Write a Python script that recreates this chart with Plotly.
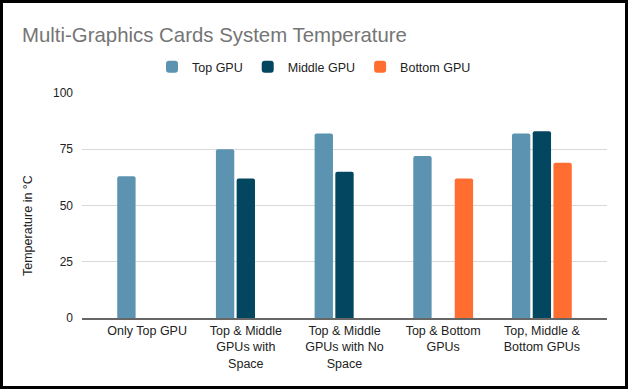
import plotly.graph_objects as go

categories = [
    "Only Top GPU",
    "Top & Middle<br>GPUs with<br>Space",
    "Top & Middle<br>GPUs with No<br>Space",
    "Top & Bottom<br>GPUs",
    "Top, Middle &<br>Bottom GPUs",
]
top_gpu = [63, 75, 82, 72, 82]
middle_gpu = [None, 62, 65, None, 83]
bottom_gpu = [None, None, None, 62, 69]
y_ticks = [0, 25, 50, 75, 100]

W, H = 628, 389
L, R, T, B = 82, 21, 93, 71
FONT = "Liberation Sans, Arial, sans-serif"

fig = go.Figure()
for name, vals, col in [
    ("Top GPU", top_gpu, "#5b93b0"),
    ("Middle GPU", middle_gpu, "#03465f"),
    ("Bottom GPU", bottom_gpu, "#ff6d31"),
]:
    fig.add_trace(go.Bar(x=categories, y=vals, name=name, marker_color=col,
                         marker_line_width=0))

pw, ph = W - L - R, H - T - B
fig.add_shape(type="rect", xref="paper", yref="paper",
              x0=(1.5 - L) / pw, x1=(W - 1.5 - L) / pw,
              y0=-(B - 1.5) / ph, y1=1 + (T - 1.5) / ph,
              line=dict(color="black", width=3), fillcolor="rgba(0,0,0,0)")

fig.add_annotation(text="Temperature in °C", textangle=-90, showarrow=False,
                   xref="paper", yref="paper",
                   x=(28 - L) / pw, y=1 - (226 - T) / ph,
                   xanchor="center", yanchor="middle",
                   font=dict(family=FONT, size=12.5, color="#222"))

fig.update_layout(
    width=W, height=H,
    margin=dict(l=L, r=R, t=T, b=B, autoexpand=False),
    paper_bgcolor="white", plot_bgcolor="white",
    barmode="group", bargap=0.37, bargroupgap=0.115, barcornerradius=2,
    font=dict(family=FONT, color="#222"),
    title=dict(text="Multi-Graphics Cards System Temperature",
               x=22 / W, xanchor="left", y=1 - 35 / H, yanchor="middle",
               xref="container", yref="container",
               font=dict(family=FONT, size=20.4, color="#757575")),
    legend=dict(orientation="h", x=0.5, xanchor="center", y=1 - 67 / H,
                yanchor="middle", xref="container", yref="container",
                font=dict(family=FONT, size=12.5, color="#222")),
    xaxis=dict(range=[-0.66, 4.66], showgrid=False, showline=True,
               linecolor="#666", linewidth=2, tickfont=dict(size=12.5),
               ticks="", automargin=False),
    yaxis=dict(range=[0, 100], tickvals=y_ticks, showgrid=True,
               gridcolor="#d9d9d9", gridwidth=1, zeroline=False,
               tickfont=dict(size=12), ticklabelstandoff=8, automargin=False),
)

fig.write_html(
    "out.html",
    config={"displayModeBar": False},
    post_script="document.body.style.margin='0';document.body.style.overflow='hidden';",
)
